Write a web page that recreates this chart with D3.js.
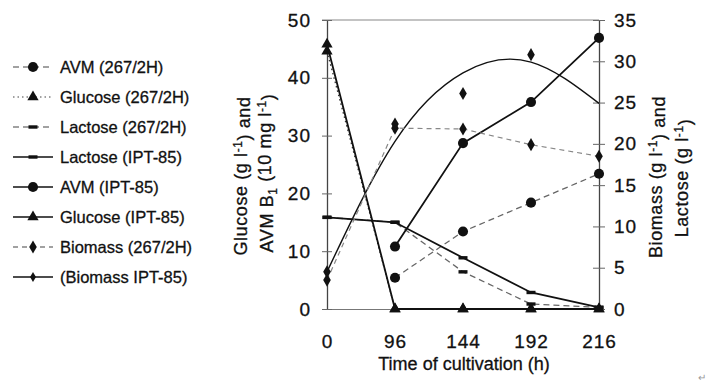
<!DOCTYPE html>
<html lang="en">
<head>
<meta charset="UTF-8">
<title>Cultivation</title>
<script src="https://cdnjs.cloudflare.com/ajax/libs/d3/7.8.5/d3.min.js"></script>
<style>
  body { margin: 0; background: #fff; }
  svg { font-family: "Liberation Sans", Arial, sans-serif; }
  .tick text { font-size: 19px; fill: #111; stroke: #111; stroke-width: 0.3; letter-spacing: 1px; }
  .title { font-size: 18px; fill: #111; stroke: #111; stroke-width: 0.3; }
  .leg { font-size: 16.5px; fill: #111; stroke: #111; stroke-width: 0.3; }
</style>
</head>
<body>
<div id="chart"></div>
<script>
// time points (h)
var times = [0, 96, 144, 192, 216];

// left axis: glucose (g/l) and AVM B1 (10 mg/l)
var avm267    = [null, 5.4, 13.4, 18.4, 23.4];
var avmIpt    = [null, 10.8, 28.7, 35.8, 46.9];
var glucose267 = [44.6, 0, 0, 0, 0];
var glucoseIpt = [45.8, 0, 0, 0, 0];

// right axis: biomass and lactose (g/l)
var lactose267 = [11.1, 10.5, 4.5, 0.6, 0.2];
var lactoseIpt = [11.1, 10.5, 6.2, 2.0, 0.2];
var biomass267 = [3.5, 21.9, 21.8, 19.9, 18.5];
var biomassIpt = [4.5, 22.4, 26.1, 30.8, null];
var biomassTrend = [4.5, 20.3, 28.6, 29.9, 24.9];

var leftTicks = [0, 10, 20, 30, 40, 50];
var rightTicks = [0, 5, 10, 15, 20, 25, 30, 35];

var width = 708, height = 389;
var svg = d3.select('#chart').append('svg')
    .attr('width', width)
    .attr('height', height);

var x = d3.scalePoint().domain(times).range([327, 599]);
var yL = d3.scaleLinear().domain([0, 50]).range([309, 20]);
var yR = d3.scaleLinear().domain([0, 35]).range([309, 20]);

// frame top
svg.append('line')
    .attr('x1', 322).attr('x2', 599)
    .attr('y1', yL(50)).attr('y2', yL(50))
    .attr('stroke', '#888').attr('stroke-width', 1.2);

// axes
var gx = svg.append('g')
    .attr('transform', 'translate(0,' + yL(0) + ')')
    .call(d3.axisBottom(x).tickSizeInner(0).tickSizeOuter(0).tickPadding(26));
gx.select('.domain').attr('stroke', '#777').attr('stroke-width', 1.2);

var gl = svg.append('g')
    .attr('transform', 'translate(327,0)')
    .call(d3.axisLeft(yL).tickValues(leftTicks).tickSizeInner(5).tickSizeOuter(0).tickPadding(11));
gl.select('.domain').attr('stroke', '#444').attr('stroke-width', 1.3);
gl.selectAll('.tick line').attr('x1', -5).attr('x2', 5).attr('stroke', '#666');

var gr = svg.append('g')
    .attr('transform', 'translate(599,0)')
    .call(d3.axisRight(yR).tickValues(rightTicks).tickSizeInner(5).tickSizeOuter(0).tickPadding(10));
gr.select('.domain').attr('stroke', '#444').attr('stroke-width', 1.3);
gr.selectAll('.tick line').attr('x1', -6).attr('x2', 6).attr('stroke', '#666');

// axis titles
svg.append('text').attr('class', 'title')
    .attr('x', 464).attr('y', 370)
    .attr('text-anchor', 'middle')
    .text('Time of cultivation (h)');

function unitTitle(g, pre, post) {
  g.append('tspan').text(pre);
  g.append('tspan').attr('dy', '-0.45em').attr('font-size', '12px').text('-1');
  g.append('tspan').attr('dy', '0.45em').text(post);
}

var t1 = svg.append('text').attr('class', 'title')
    .attr('text-anchor', 'middle').attr('letter-spacing', 0.6)
    .attr('transform', 'translate(247,176) rotate(-90)');
unitTitle(t1, 'Glucose (g l', ') and');

var t2 = svg.append('text').attr('class', 'title')
    .attr('text-anchor', 'middle').attr('letter-spacing', 0.6)
    .attr('transform', 'translate(273,173) rotate(-90)');
t2.append('tspan').text('AVM B');
t2.append('tspan').attr('dy', '0.3em').attr('font-size', '12px').text('1');
t2.append('tspan').attr('dy', '-0.3em').text(' (10 mg l');
t2.append('tspan').attr('dy', '-0.45em').attr('font-size', '12px').text('-1');
t2.append('tspan').attr('dy', '0.45em').text(')');

var t3 = svg.append('text').attr('class', 'title')
    .attr('text-anchor', 'middle').attr('letter-spacing', 0.6)
    .attr('transform', 'translate(662,177) rotate(-90)');
unitTitle(t3, 'Biomass (g l', ') and');

var t4 = svg.append('text').attr('class', 'title')
    .attr('text-anchor', 'middle').attr('letter-spacing', 0.6)
    .attr('transform', 'translate(688,178) rotate(-90)');
unitTitle(t4, 'Lactose (g l', ')');

// symbols
var sym = {
  circle: d3.symbol().type(d3.symbolCircle).size(80),
  triangle: d3.symbol().type(d3.symbolTriangle).size(55),
  diamond: d3.symbol().type(d3.symbolDiamond).size(50),
  smallDiamond: d3.symbol().type(d3.symbolDiamond).size(30)
};

function drawMarker(g, kind, cx, cy) {
  if (kind === 'dash') {
    g.append('rect')
        .attr('x', cx - 4.5).attr('y', cy - 1.7)
        .attr('width', 9).attr('height', 3.4)
        .attr('fill', '#111');
  } else {
    g.append('path')
        .attr('d', sym[kind]())
        .attr('transform', 'translate(' + cx + ',' + cy + ')')
        .attr('fill', '#111');
  }
}

var series = [
  { name: 'AVM (267/2H)', values: avm267, scale: yL, dash: '6,4', color: '#666', width: 1.3, marker: 'circle', line: true },
  { name: 'Glucose (267/2H)', values: glucose267, scale: yL, dash: '1.5,3', color: '#333', width: 1.3, marker: 'triangle', line: true },
  { name: 'Lactose (267/2H)', values: lactose267, scale: yR, dash: '6,4', color: '#666', width: 1.3, marker: 'dash', line: true },
  { name: 'Lactose (IPT-85)', values: lactoseIpt, scale: yR, dash: null, color: '#111', width: 1.8, marker: 'dash', line: true },
  { name: 'AVM (IPT-85)', values: avmIpt, scale: yL, dash: null, color: '#111', width: 1.8, marker: 'circle', line: true },
  { name: 'Glucose (IPT-85)', values: glucoseIpt, scale: yL, dash: null, color: '#111', width: 1.8, marker: 'triangle', line: true },
  { name: 'Biomass (267/2H)', values: biomass267, scale: yR, dash: '5,4', color: '#888', width: 1.2, marker: 'diamond', line: true },
  { name: '(Biomass IPT-85)', values: biomassIpt, scale: yR, dash: null, color: '#111', width: 1.5, marker: 'diamond', line: false }
];

var plot = svg.append('g');

// biomass IPT-85 trend curve
plot.append('path')
    .datum(biomassTrend)
    .attr('fill', 'none')
    .attr('stroke', '#111')
    .attr('stroke-width', 1.4)
    .attr('d', d3.line()
      .x(function (d, i) { return x(times[i]); })
      .y(function (d) { return yR(d); })
      .curve(d3.curveNatural));

series.forEach(function (s) {
  if (s.line) {
    plot.append('path')
        .datum(s.values)
        .attr('fill', 'none')
        .attr('stroke', s.color)
        .attr('stroke-width', s.width)
        .attr('stroke-dasharray', s.dash)
        .attr('d', d3.line()
          .defined(function (d) { return d !== null; })
          .x(function (d, i) { return x(times[i]); })
          .y(function (d) { return s.scale(d); }));
  }
});

series.forEach(function (s) {
  s.values.forEach(function (v, i) {
    if (v === null) return;
    drawMarker(plot, s.marker, x(times[i]), s.scale(v));
  });
});

// legend
var leg = svg.append('g');
series.forEach(function (s, i) {
  var cy = 67 + i * 30;
  leg.append('line')
      .attr('x1', 13).attr('x2', 53)
      .attr('y1', cy).attr('y2', cy)
      .attr('stroke', s.dash ? '#444' : '#111')
      .attr('stroke-width', s.dash ? 1.2 : 1.6)
      .attr('stroke-dasharray', s.dash);
  drawMarker(leg, i === 7 ? 'smallDiamond' : s.marker, 33, cy);
  leg.append('text').attr('class', 'leg')
      .attr('x', 60).attr('y', cy).attr('dy', '0.36em')
      .text(s.name);
});

// stray mark from the scan
svg.append('text')
    .attr('x', 698).attr('y', 381)
    .attr('font-size', '10px').attr('fill', '#999')
    .text('\u21b5');
</script>
</body>
</html>
